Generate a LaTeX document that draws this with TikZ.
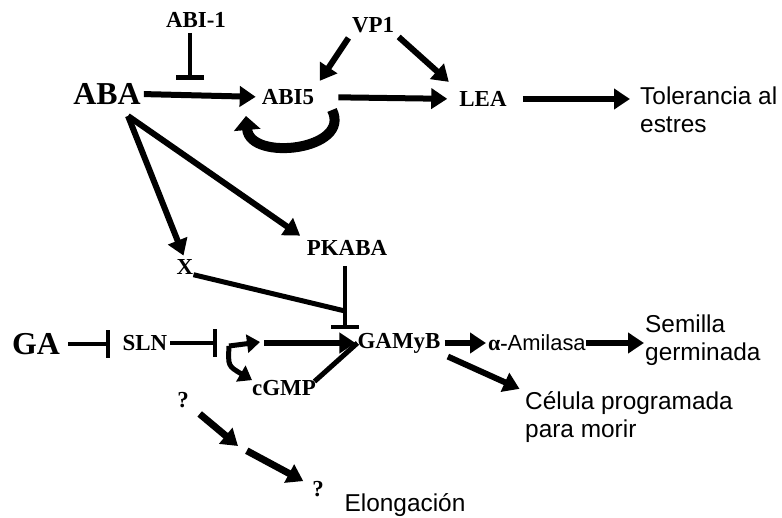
\documentclass[tikz,border=0pt]{standalone}
\usepackage{fontspec}
\setmainfont{Liberation Serif}
\newfontfamily\sansf{Liberation Sans}
\usetikzlibrary{arrows.meta}

\begin{document}
\begin{tikzpicture}[x=1bp,y=-1bp]
\tikzstyle{every node}+=[inner sep=0pt]
\tikzstyle{lbl}=[font=\bfseries\fontsize{23}{27}\selectfont]
\tikzstyle{big}=[font=\bfseries\fontsize{32}{36}\selectfont]
\tikzstyle{txt}=[font=\sansf\fontsize{24.5}{28}\selectfont,align=left,anchor=west]
\tikzstyle{act}=[line width=6bp,-{Triangle[length=16bp,width=20bp]}]
\tikzstyle{inh}=[line width=4.5bp,-{Bar[width=28bp]}]
\useasboundingbox (0,0) rectangle (782,518);
\node[lbl] (abi1) at (196,20) {ABI-1};
\node[lbl] (vp1) at (373,25) {VP1};
\node[big] (aba) at (107,94) {ABA};
\node[lbl] (abi5) at (288,97) {ABI5};
\node[lbl] (lea) at (483,99) {LEA};
\node[txt] (tol) at (640,110) {Tolerancia al\\estres};
\node[lbl] (x) at (185,267) {X};
\node[lbl] (pkaba) at (347,248) {PKABA};
\node[big] (ga) at (36,344) {GA};
\node[lbl] (sln) at (145,343) {SLN};
\node[lbl] (cgmp) at (284,388) {cGMP};
\node[lbl] (gamyb) at (399,343) {GAMyB};
\node[txt,font=\sansf\fontsize{22}{26}\selectfont] (ami) at (488,343) {{\rmfamily\bfseries α-}Amilasa};
\node[txt] (sem) at (645,340) {Semilla\\germinada};
\node[txt] (cel) at (525,417) {Célula programada\\para morir};
\node[lbl] (q1) at (183,400) {?};
\node[lbl] (q2) at (318,489) {?};
\node[txt,anchor=center] (elo) at (405,505) {Elongación};
\coordinate (ab) at (190,80);
\coordinate (ls) at (332,110);
\coordinate (le) at (246,116);
\coordinate (af) at (128,116);
\coordinate (xj) at (345,311);
\coordinate (gb) at (345,329);
\coordinate (sb) at (217,343);
\coordinate (j) at (229,346);
\coordinate (jr) at (260,342);
\coordinate (k) at (264,343);
\coordinate (qm) at (238,446);
\draw[inh] (abi1.south -| ab) ++(0,5) -- (ab);
\draw[act,shorten <=3bp,shorten >=6bp] (aba.east) -- (abi5.west);
\draw[act,shorten <=6bp,shorten >=10bp] (vp1.south west) -- (abi5.north east);
\draw[act,shorten <=6bp,shorten >=14bp] (vp1.south east) -- (lea.north west);
\draw[act,shorten <=24bp,shorten >=12bp] (abi5.east) -- (lea.west);
\draw[act,shorten <=16bp,shorten >=10bp] (lea.east) -- (lea.east -| tol.west);
\draw[line width=10bp,-{Triangle[length=14bp,width=26bp]}] (ls) .. controls (352,150) and (250,162) .. (le);
\draw[act,shorten >=4bp] (af) -- (x.north);
\draw[act,shorten >=8bp] (af) -- (pkaba.north west);
\draw[line width=5bp] (x.south east) -- (xj);
\draw[inh,shorten <=10bp] (pkaba.south -| gb) -- (gb);
\draw[inh,shorten <=8bp] (ga.east) -- (ga.east -| 110,0);
\draw[inh,shorten <=3bp] (sln.east) -- (sb);
\draw[line width=5bp,-{Triangle[length=13bp,width=18bp]}] (j) -- (jr);
\draw[line width=5bp,-{Triangle[length=13bp,width=18bp]}] (j) .. controls (228,366) .. (cgmp.north west);
\draw[act,shorten >=2bp] (k) -- (gamyb.west);
\draw[line width=5bp,shorten <=-2bp] (cgmp.north east) -- (gamyb.west);
\draw[act,shorten <=4bp,shorten >=2bp] (gamyb.east) -- (ami.west);
\draw[act,shorten >=1bp] (ami.east) -- (ami.east -| sem.west);
\draw[act,shorten <=8bp,shorten >=6bp] (gamyb.south east) -- (cel.north west);
\draw[act,line width=7bp,shorten <=14bp] (q1) -- (qm);
\draw[act,line width=7bp,shorten <=10bp,shorten >=10bp] (qm) -- (q2);
\end{tikzpicture}
\end{document}
